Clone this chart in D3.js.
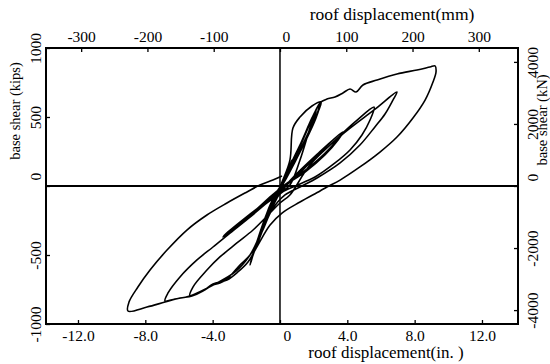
<!DOCTYPE html>
<html><head><meta charset="utf-8">
<script src="https://cdn.jsdelivr.net/npm/d3@7"></script>
<style>body{margin:0;background:#fff}svg{display:block}</style>
</head><body>
<svg id="c" width="550" height="364"></svg>
<script>
// tick labels
const inchTicks = [-12, -8, -4, 0, 4, 8, 12];
const mmTicks = [-300, -200, -100, 0, 100, 200, 300];
const kipTicks = [-1000, -500, 0, 500, 1000];
const kNTicks = [-4000, -2000, 0, 2000, 4000];

// hysteresis history: [roof displacement (in.), base shear (kips)]
const cycleSmall = [
[0,0],[0.59,130],[0.71,188],[0.36,72],[-0.24,-65],[-0.59,-174],[-0.71,-210],[-0.36,-101],[0.24,43],[1.19,297],[1.90,493],[2.14,551],[1.96,464],[1.19,261],[0.30,43],[-0.48,-138],[-1.07,-333],[-1.43,-449],[-1.25,-377],[-0.59,-174],[0.12,29]
];
const cycleSteep = [
[0.59,188],[0.77,420],[1.19,500],[1.90,580],[2.44,609],[2.26,536],[1.49,333],[0.71,152],[0.18,29],[-0.30,-65],[-0.89,-232],[-1.43,-428],[-1.78,-572],[-1.54,-464],[-1.07,-304],[-0.48,-138],[0,-29],[0.71,152],[1.49,370],[2.26,580],[2.38,594],[2.14,493],[1.31,275],[0.30,43],[-0.59,-138],[-1.19,-355],[-1.66,-522],[-1.43,-442],[-0.83,-246],[0,-43],
[0.65,160],[1.40,350],[2.10,540],[2.35,600],[2.20,520],[1.40,300],[0.40,60],[-0.40,-110],[-1.00,-300],[-1.55,-480],[-1.72,-550],[-1.50,-450],[-0.95,-280],[-0.30,-100],[0.10,-20]
];
const cycleMid = [
[0.89,58],[2.38,246],[3.74,391],[3.45,333],[2.67,225],[1.49,101],[0.59,29],[0,-29],[-0.89,-123],[-2.08,-246],[-3.39,-370],[-3.09,-333],[-2.08,-232],[-1.07,-138],[0,-51],
[0.60,40],[2.20,230],[3.60,378],[3.30,320],[2.40,205],[1.20,85],[0.30,10],[-0.50,-70],[-1.50,-180],[-2.40,-270],[-2.90,-320],[-2.60,-290],[-1.60,-200],[-0.60,-100],[0,-40]
];
const cycleC = [
[1.19,101],[2.97,297],[4.46,464],[5.59,572],[5.35,478],[4.87,370],[4.16,261],[3.27,167],[2.08,65],[0.77,-7],[0,-58],[-0.59,-188],[-1.19,-355],[-1.78,-500],[-2.38,-572],[-3.09,-667],[-3.57,-703],[-3.98,-717],[-4.58,-761],[-5.35,-797],[-5.17,-732],[-4.34,-609],[-3.57,-514],[-2.56,-413],[-1.60,-319],[-0.59,-196],[0,-123],[0.59,-65]
];
const cycleB = [
[1.78,152],[3.74,377],[5.59,551],[6.95,681],[6.71,623],[6.24,522],[5.64,428],[4.75,297],[3.57,167],[2.20,58],[1.19,-7],[0.30,-65],[-0.48,-174],[-1.07,-333],[-1.78,-500],[-2.67,-623],[-3.86,-710],[-5.35,-797],[-6.24,-819],[-6.83,-833],[-6.65,-775],[-5.94,-659],[-4.93,-536],[-3.98,-442],[-2.97,-341],[-1.78,-225],[-0.77,-123],[0,-51],[0.59,7]
];
const cycleA = [
[1.19,188],[1.78,420],[2.14,551],[2.44,609],[2.79,630],[3.27,645],[3.74,674],[4.16,703],[4.52,681],[4.93,732],[5.76,768],[6.95,812],[8.14,841],[8.91,862],[9.21,870],[9.27,826],[9.09,754],[8.62,623],[7.90,493],[6.95,355],[5.94,246],[4.75,138],[3.57,43],[2.79,-7],[2.38,-36],[1.19,-116],[0.12,-196],[-0.59,-283],[-1.31,-428],[-1.90,-551],[-2.50,-623],[-3.15,-681],[-3.98,-710],[-4.58,-761],[-5.23,-797],[-5.94,-812],[-6.83,-841],[-7.90,-877],[-9.03,-906],[-8.97,-841],[-8.44,-732],[-7.72,-609],[-6.71,-464],[-5.53,-319],[-4.34,-210],[-3.15,-123],[-1.96,-43],[-1.19,7],[-0.42,43],[0.12,72]
];

const history = [].concat(cycleSmall, cycleSteep, cycleMid, cycleC, cycleB, cycleA);

const KN_PER_KIP = 4.448, MM_PER_IN = 25.4;
const m = {l:46, r:518, t:48, b:324};
const font = "'Liberation Serif','Times New Roman',serif";

const svg = d3.select("#c");
const x = d3.scaleLinear().domain([-13.90, 14.14]).range([m.l, m.r]);
const xmm = d3.scaleLinear().domain(x.domain().map(d => d*MM_PER_IN)).range([m.l, m.r]);
const y = d3.scaleLinear().domain([-1000, 1000]).range([m.b, m.t]);
const ykN = d3.scaleLinear().domain(y.domain().map(d => d*KN_PER_KIP)).range([m.b, m.t]);

const hy = v => (v < 0 ? "-" : "") + Math.abs(v);
const fmtIn = v => v === 0 ? "0" : (v < 0 ? "-" : "") + Math.abs(v).toFixed(1);

function style(g, size){
  g.select(".domain").remove();
  g.selectAll("line").attr("stroke","#000").attr("stroke-width",1.3);
  g.selectAll("text").attr("fill","#000").style("font-family",font).style("font-size",size+"px");
}

// bottom axis (inches)
svg.append("g").attr("transform",`translate(0,${m.b})`)
  .call(d3.axisBottom(x).tickValues(inchTicks).tickFormat(fmtIn).tickSize(-4).tickSizeOuter(0).tickPadding(6))
  .call(g => style(g, 15.5))
  .call(g => g.selectAll("text").filter(d => d === 0).attr("dx", 7));
// top axis (mm)
svg.append("g").attr("transform",`translate(0,${m.t})`)
  .call(d3.axisTop(xmm).tickValues(mmTicks).tickFormat(hy).tickSize(-4).tickSizeOuter(0).tickPadding(6))
  .call(g => style(g, 15.5))
  .call(g => g.selectAll("text").filter(d => d === 0).attr("dx", 6));
// left axis (kips)
svg.append("g").attr("transform",`translate(${m.l},0)`)
  .call(d3.axisLeft(y).tickValues(kipTicks).tickFormat(hy).tickSize(-4).tickSizeOuter(0))
  .call(g => style(g, 15.5))
  .call(g => g.selectAll("text").attr("x",null).attr("dy",null).attr("text-anchor","middle")
      .attr("transform", d => `translate(-5,${d === 0 ? -10 : 0}) rotate(-90)`));
// right axis (kN)
svg.append("g").attr("transform",`translate(${m.r},0)`)
  .call(d3.axisRight(ykN).tickValues(kNTicks).tickFormat(hy).tickSize(-4).tickSizeOuter(0))
  .call(g => style(g, 15.5))
  .call(g => g.selectAll("text").attr("x",null).attr("dy",null).attr("text-anchor","middle")
      .attr("transform", d => `translate(20,${d === 0 ? -9 : 0}) rotate(-90)`));

// frame
svg.append("rect").attr("x",m.l).attr("y",m.t).attr("width",m.r-m.l).attr("height",m.b-m.t)
  .attr("fill","none").attr("stroke","#000").attr("stroke-width",2);
// zero lines
svg.append("line").attr("x1",m.l).attr("x2",m.r).attr("y1",y(0)).attr("y2",y(0))
  .attr("stroke","#000").attr("stroke-width",2.2);
svg.append("line").attr("x1",x(0)).attr("x2",x(0)).attr("y1",m.t).attr("y2",m.b)
  .attr("stroke","#000").attr("stroke-width",1.5);

// hysteresis curve
const line = d3.line().x(d => x(d[0])).y(d => y(d[1])).curve(d3.curveCatmullRom.alpha(0.5));
svg.append("path").datum(history).attr("d",line)
  .attr("fill","none").attr("stroke","#000").attr("stroke-width",1.6).attr("stroke-linejoin","round");

// titles
svg.append("text").attr("x",392).attr("y",20).attr("text-anchor","middle")
  .style("font-family",font).style("font-size","17.5px").text("roof displacement(mm)");
svg.append("text").attr("x",386).attr("y",358).attr("text-anchor","middle")
  .style("font-family",font).style("font-size","17px").text("roof displacement(in. )");
svg.append("text").attr("transform","translate(20,111) rotate(-90)").attr("text-anchor","middle")
  .style("font-family",font).style("font-size","14.5px").text("base shear (kips)");
svg.append("text").attr("transform","translate(547,120) rotate(-90)").attr("text-anchor","middle")
  .style("font-family",font).style("font-size","14.5px").text("base shear (kN)");
</script>
</body></html>
